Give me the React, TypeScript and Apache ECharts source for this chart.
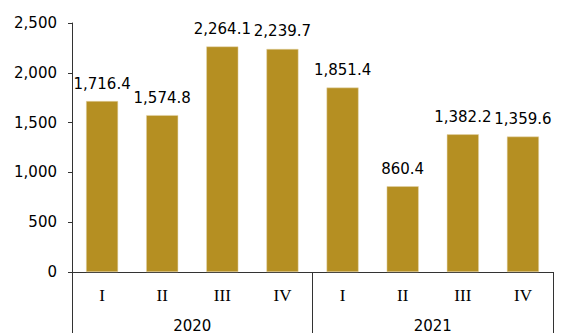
import React, { useEffect, useRef } from "react";
import * as echarts from "echarts";

const quarters = ["I", "II", "III", "IV", "I", "II", "III", "IV"];
const years = ["2020", "2021"];
const values = [1716.4, 1574.8, 2264.1, 2239.7, 1851.4, 860.4, 1382.2, 1359.6];
const yMin = 0;
const yMax = 2500;
const yStep = 500;

const fmt = (v: number, d: number) =>
  v.toLocaleString("en-US", { minimumFractionDigits: d, maximumFractionDigits: d });

export default function App() {
  const ref = useRef<HTMLDivElement>(null);
  useEffect(() => {
    if (!ref.current) return;
    const chart = echarts.init(ref.current, null, { renderer: "svg" });
    const axisColor = "#333333";
    chart.setOption({
      animation: false,
      grid: { left: 72, right: 9, top: 23, bottom: 61 },
      xAxis: [
        {
          type: "category",
          data: quarters,
          position: "bottom",
          axisLine: { show: true, lineStyle: { color: axisColor, width: 1 } },
          axisTick: { show: false },
          axisLabel: {
            margin: 15,
            fontFamily: "Liberation Serif",
            fontSize: 17,
            color: "#000",
          },
        },
        {
          type: "category",
          data: years,
          position: "bottom",
          boundaryGap: true,
          axisLine: { show: false },
          axisTick: {
            show: true,
            length: 61,
            inside: false,
            lineStyle: { color: axisColor, width: 1 },
          },
          axisLabel: {
            margin: 46,
            fontFamily: "DejaVu Sans",
            fontSize: 15,
            color: "#000",
          },
        },
      ],
      yAxis: {
        type: "value",
        min: yMin,
        max: yMax,
        interval: yStep,
        axisLine: { show: true, lineStyle: { color: axisColor, width: 1 } },
        axisTick: { show: true, length: 4, lineStyle: { color: axisColor } },
        splitLine: { show: false },
        axisLabel: {
          margin: 15,
          fontFamily: "DejaVu Sans",
          fontSize: 15,
          color: "#000",
          formatter: (v: number) => fmt(v, 0),
        },
      },
      series: [
        {
          type: "bar",
          xAxisIndex: 0,
          data: values,
          barWidth: 32,
          itemStyle: { color: "#B58F22", borderColor: "#E6D7AE", borderWidth: 0.5 },
          label: {
            show: true,
            position: "top",
            distance: 10,
            fontFamily: "DejaVu Sans",
            fontSize: 15,
            color: "#000",
            formatter: (p: any) => fmt(p.value, 1),
          },
        },
      ],
    });
    return () => chart.dispose();
  }, []);
  return <div ref={ref} style={{ width: 562, height: 333, position: "absolute", left: 0, top: 0 }} />;
}
